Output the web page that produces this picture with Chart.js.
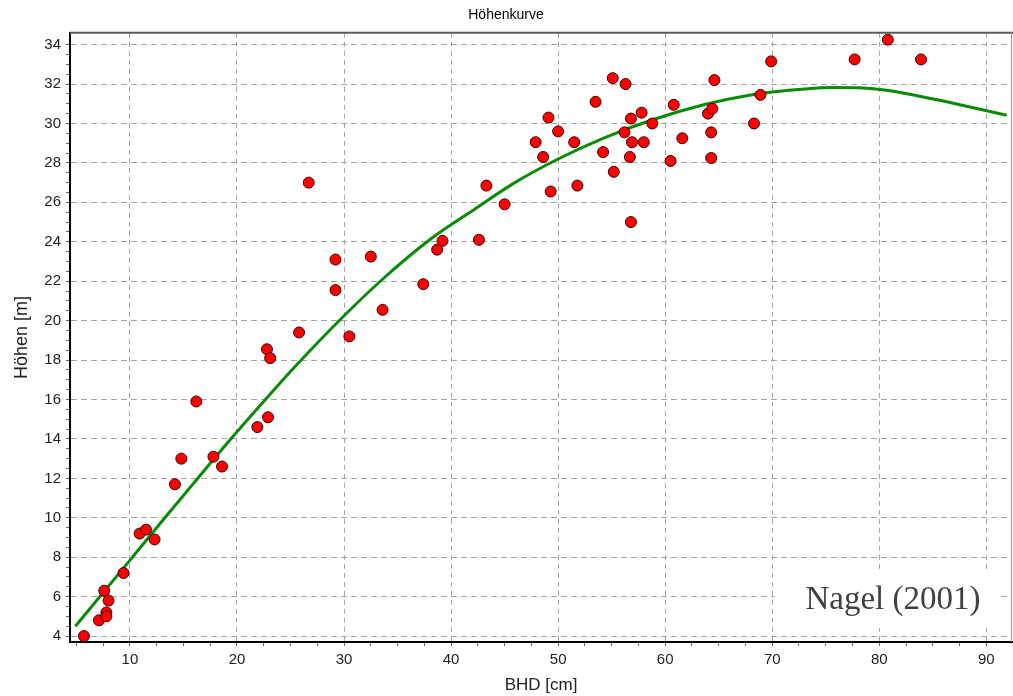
<!DOCTYPE html>
<html>
<head>
<meta charset="utf-8">
<title>Höhenkurve</title>
<script src="https://cdn.jsdelivr.net/npm/chart.js@4/dist/chart.umd.min.js"></script>
<style>
    body { margin: 0; background: #fff; }
    canvas { display: block; }
</style>
</head>
<body>
<canvas id="hoehenChart" width="1013" height="696"></canvas>
<script>
// measured trees: BHD [cm] and height [m]
const bhd = [5.7, 7.1, 7.6, 8.0, 7.8, 7.8, 9.4, 10.9, 11.5, 12.3,
    14.2, 14.8, 16.2, 17.8, 18.6, 21.9, 22.9, 22.8, 23.1, 25.8,
    26.7, 29.2, 29.2, 30.5, 32.5, 33.6, 37.4, 38.7, 39.2, 42.6,
    43.3, 45.0, 47.9, 48.6, 49.1, 49.3, 50.0, 51.5, 51.8, 53.5,
    54.2, 55.1, 55.2, 56.2, 56.3, 56.7, 56.8, 56.8, 56.9, 57.8,
    58.0, 58.8, 60.5, 60.8, 61.6, 64.0, 64.3, 64.3, 64.4, 64.6,
    68.3, 68.9, 69.9, 77.7, 80.8, 83.9];
const hoehe = [4.0, 4.8, 6.3, 5.8, 5.2, 5.0, 7.2, 9.2, 9.4, 8.9,
    11.7, 13.0, 15.9, 13.1, 12.6, 14.6, 15.1, 18.55, 18.1, 19.4,
    27.0, 23.1, 21.55, 19.2, 23.25, 20.55, 21.85, 23.6, 24.05, 24.1,
    26.85, 25.9, 29.05, 28.3, 30.3, 26.55, 29.6, 29.05, 26.85, 31.1,
    28.55, 32.3, 27.55, 29.55, 32.0, 28.3, 30.25, 25.0, 29.05, 30.55,
    29.05, 30.0, 28.1, 30.95, 29.25, 30.5, 29.55, 28.25, 30.75, 32.2,
    30.0, 31.45, 33.15, 33.25, 34.25, 33.25];

// fitted height curve (Nagel 2001)
const kurveX = [4.9, 9.7, 12.8, 15.9, 19.0, 22.2, 25.3, 30.1, 33.7, 38.0,
    42.2, 45.8, 50.0, 54.2, 58.9, 63.6, 68.0, 73.1, 75.8, 78.5,
    80.5, 83.2, 86.3, 89.4, 91.9];
const kurveY = [4.5, 7.65, 9.7, 11.72, 13.73, 15.72, 17.6, 20.3, 22.15, 24.1,
    25.65, 26.95, 28.2, 29.25, 30.2, 30.95, 31.45, 31.75, 31.82, 31.8,
    31.7, 31.45, 31.1, 30.72, 30.42];

// axis ticks
const xLabelTicks = [10, 20, 30, 40, 50, 60, 70, 80, 90];
const yLabelTicks = [4, 6, 8, 10, 12, 14, 16, 18, 20, 22, 24, 26, 28, 30, 32, 34];
const xMinorStep = 2.5;
const yMinorStep = 0.5;

const punkte = bhd.map((x, i) => ({ x: x, y: hoehe[i] }));
const kurve = kurveX.map((x, i) => ({ x: x, y: kurveY[i] }));

function minorTicks(from, to, step) {
    const out = [];
    for (let v = from; v <= to + 1e-9; v += step) out.push({ value: v });
    return out;
}

const gridColor = (labels) => (ctx) =>
    (ctx.tick && labels.includes(ctx.tick.value)) ? "#a4a4a4" : "rgba(0,0,0,0)";

// white box with the source label + top/right frame lines
const extrasPlugin = {
    id: "extras",
    beforeDatasetsDraw(chart) {
        const ctx = chart.ctx;
        ctx.save();
        ctx.fillStyle = "#fff";
        ctx.fillRect(775, 573, 226, 55);
        ctx.fillStyle = "#404040";
        ctx.font = "33px 'Liberation Serif', serif";
        ctx.textAlign = "center";
        ctx.textBaseline = "alphabetic";
        ctx.fillText("Nagel (2001)", 893, 609);
        ctx.restore();
    },
    afterDraw(chart) {
        const { ctx, chartArea: a } = chart;
        ctx.save();
        ctx.strokeStyle = "#5a5a5a";
        ctx.lineWidth = 2;
        ctx.beginPath();
        ctx.moveTo(a.left, a.top);
        ctx.lineTo(a.right + 1, a.top);
        ctx.stroke();
        ctx.strokeStyle = "#9a9a9a";
        ctx.lineWidth = 1;
        ctx.beginPath();
        ctx.moveTo(a.right - 0.5, a.top);
        ctx.lineTo(a.right - 0.5, a.bottom);
        ctx.stroke();
        ctx.restore();
    }
};

const tickFont = { family: "'Liberation Sans', Arial, sans-serif", size: 15 };

new Chart(document.getElementById("hoehenChart"), {
    type: "scatter",
    data: {
        datasets: [
            {
                label: "Bäume",
                data: punkte,
                backgroundColor: "#ff0000",
                borderColor: "#3a0000",
                borderWidth: 1,
                pointRadius: 5.5,
                order: 0
            },
            {
                type: "line",
                label: "Höhenkurve",
                data: kurve,
                borderColor: "#098a09",
                borderWidth: 3,
                pointRadius: 0,
                fill: false,
                cubicInterpolationMode: "monotone",
                order: 1
            }
        ]
    },
    options: {
        responsive: false,
        animation: false,
        layout: { autoPadding: false, padding: { left: 0, right: 1, top: 0, bottom: 0 } },
        plugins: {
            legend: { display: false },
            tooltip: { enabled: false },
            title: {
                display: true,
                text: "Höhenkurve",
                color: "#000",
                font: { family: "'Liberation Sans', Arial, sans-serif", size: 14, weight: "normal" },
                padding: { top: 7, bottom: 9 }
            }
        },
        scales: {
            x: {
                type: "linear",
                min: 4.4,
                max: 92.4,
                afterBuildTicks: (s) => { s.ticks = minorTicks(5, 90, xMinorStep); },
                afterFit: (s) => { s.height = 54; s.paddingLeft = 0; s.paddingRight = 0; },
                ticks: {
                    color: "#222",
                    font: tickFont,
                    padding: 5,
                    maxRotation: 0,
                    autoSkip: false,
                    callback: (v) => xLabelTicks.includes(v) ? String(v) : ""
                },
                grid: {
                    color: gridColor(xLabelTicks),
                    tickColor: "#666",
                    tickLength: 4,
                    lineWidth: 1
                },
                border: { color: "#000", width: 2, dash: [5, 4] },
                title: {
                    display: true,
                    text: "BHD [cm]",
                    color: "#222",
                    font: { family: "'Liberation Sans', Arial, sans-serif", size: 17 },
                    padding: { top: 0, bottom: 0 }
                }
            },
            y: {
                type: "linear",
                min: 3.7,
                max: 34.6,
                afterBuildTicks: (s) => { s.ticks = minorTicks(4, 34, yMinorStep); },
                afterFit: (s) => { s.width = 70; },
                ticks: {
                    color: "#222",
                    font: tickFont,
                    padding: 5,
                    autoSkip: false,
                    callback: (v) => yLabelTicks.includes(v) ? String(v) : ""
                },
                grid: {
                    color: gridColor(yLabelTicks),
                    tickColor: "#666",
                    tickLength: 4,
                    lineWidth: 1
                },
                border: { color: "#000", width: 2, dash: [6, 4] },
                title: {
                    display: true,
                    text: "Höhen [m]",
                    color: "#222",
                    font: { family: "'Liberation Sans', Arial, sans-serif", size: 18 },
                    padding: { top: 11, bottom: 0 }
                }
            }
        }
    },
    plugins: [extrasPlugin]
});
</script>
</body>
</html>
